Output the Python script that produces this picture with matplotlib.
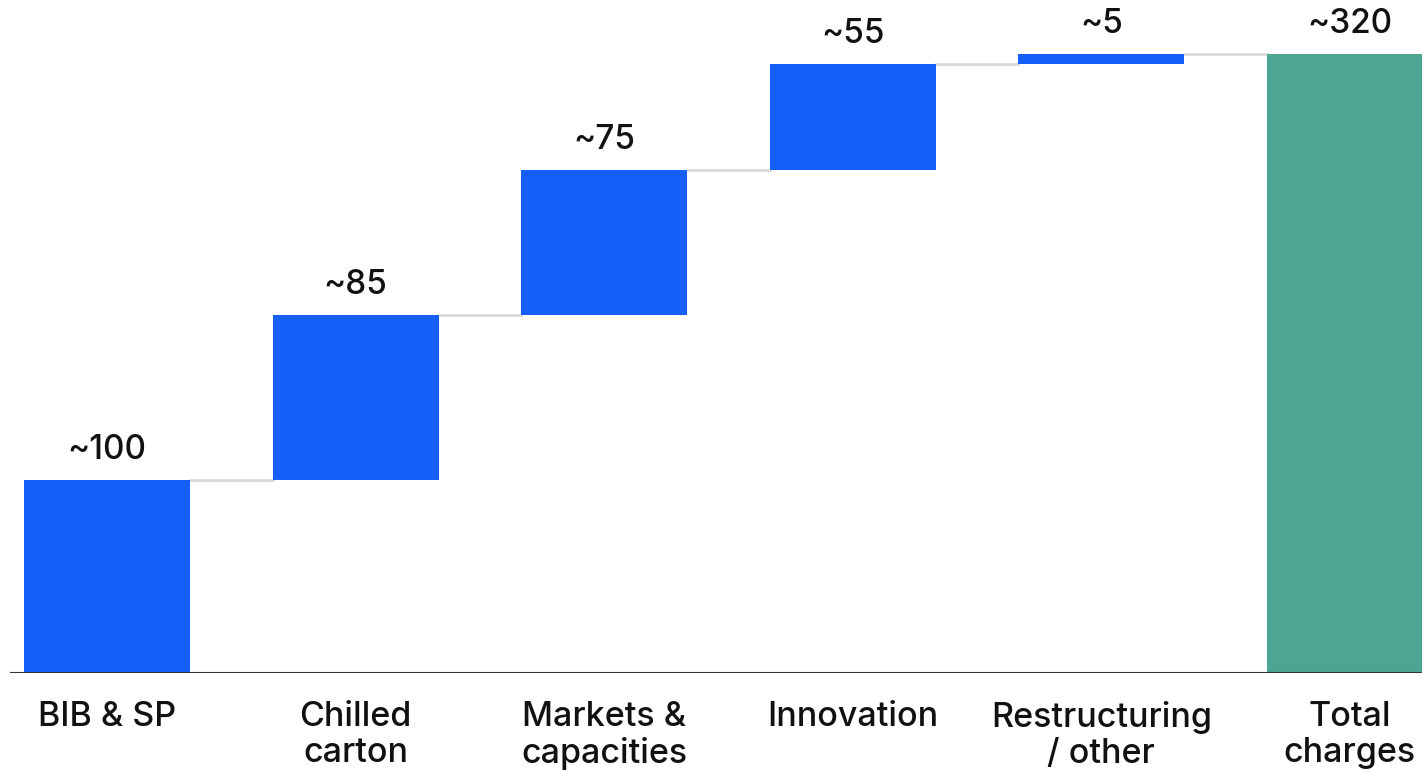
import matplotlib.pyplot as plt

categories = ["BIB & SP", "Chilled\ncarton", "Markets &\ncapacities", "Innovation", "Restructuring\n/ other", "Total\ncharges"]
steps = [100, 85, 75, 55, 5]
labels = ["~100", "~85", "~75", "~55", "~5", "~320"]
total = sum(steps)

plt.rcParams['font.family'] = ['Inter', 'DejaVu Sans']

fig = plt.figure(figsize=(14.22, 7.71), dpi=100)
ax = fig.add_axes([10 / 1422, 98 / 771, 1412 / 1422, 673 / 771])

blue = "#175FFB"
teal = "#4FA594"
width = 0.668

bottom = 0
for i, v in enumerate(steps):
    ax.bar(i, v, bottom=bottom, width=width, color=blue, zorder=2)
    bottom += v
    # connector to next bar
    ax.plot([i + width / 2, i + 1 - width / 2], [bottom, bottom], color="#D9D9D9", lw=2, zorder=1)
ax.bar(len(steps), total, width=width, color=teal, zorder=2)

tops = [sum(steps[:i + 1]) for i in range(len(steps))] + [total]
for i, (t, lab) in enumerate(zip(tops, labels)):
    ax.annotate(lab, (i, t), xytext=(0, 15), textcoords="offset points",
                ha="center", va="baseline", fontsize=24, fontweight="medium",
                color="#111111")

for i, c in enumerate(categories):
    ax.annotate(c, (i, 0), xytext=(0, -20), textcoords="offset points",
                ha="center", va="top", fontsize=24.5, fontweight="medium",
                color="#111111", linespacing=1.17, annotation_clip=False)

ax.axhline(0, color="#333333", lw=1.5, zorder=3)
ax.set_xlim(-0.39, 5.29)
ax.set_ylim(0, 348)
ax.axis("off")

fig.savefig("out.png", dpi=100)
